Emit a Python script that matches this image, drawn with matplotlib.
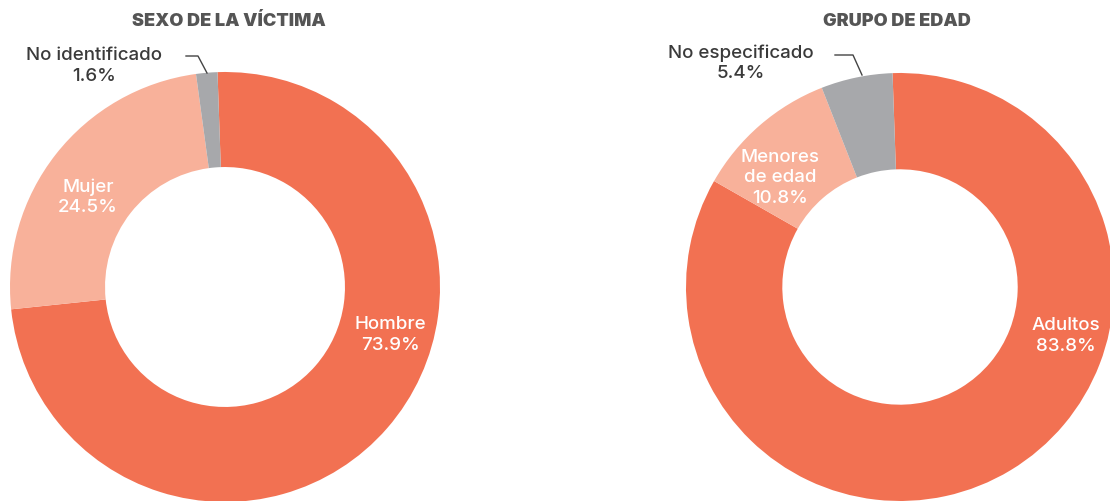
import matplotlib
matplotlib.use("Agg")
import matplotlib.pyplot as plt

W, H = 1110, 501
plt.rcParams['font.family'] = ['Inter', 'DejaVu Sans']

# Data
sexo_labels = ["Hombre", "Mujer", "No identificado"]
sexo_values = [73.9, 24.5, 1.6]
edad_labels = ["Adultos", "Menores\nde edad", "No especificado"]
edad_values = [83.8, 10.8, 5.4]
titles = ["SEXO DE LA VÍCTIMA", "GRUPO DE EDAD"]

colors = ["#F27152", "#F8B19A", "#A7A8AB"]
dark = "#3A3A3A"

fig = plt.figure(figsize=(W / 100, H / 100), dpi=100)
fig.patch.set_facecolor("white")


def px_axes(cx, cy, r):
    return [(cx - r) / W, (H - cy - r) / H, 2 * r / W, 2 * r / H]


def fx(x):
    return x / W


def fy(y):
    return (H - y) / H


def donut(rect, values, inner):
    ax = fig.add_axes(rect)
    ax.pie(values, colors=colors, startangle=92, counterclock=False,
           radius=1, wedgeprops=dict(width=1 - inner, linewidth=0))
    ax.set_xlim(-1, 1)
    ax.set_ylim(-1, 1)
    ax.set_aspect("equal")
    ax.axis("off")
    return ax


donut(px_axes(225, 287, 215), sexo_values, 0.558)
donut(px_axes(900, 287, 214), edad_values, 0.55)

# Titles
title_kw = dict(ha="center", va="center", fontsize=13, fontweight="black",
                color="#555555")
fig.text(fx(229), fy(21), titles[0], **title_kw)
fig.text(fx(897), fy(21), titles[1], **title_kw)

lab_kw = dict(ha="center", va="center", fontsize=13.5, linespacing=1.25,
              fontweight="medium")

# Left donut labels
fig.text(fx(390), fy(335), f"{sexo_labels[0]}\n{sexo_values[0]}%", color="white", **lab_kw)
fig.text(fx(88), fy(197), f"{sexo_labels[1]}\n{sexo_values[1]}%", color="white", **lab_kw)
fig.text(fx(94), fy(66), f"{sexo_labels[2]}\n{sexo_values[2]}%", color=dark, **lab_kw)

# Right donut labels
fig.text(fx(1066), fy(336), f"{edad_labels[0]}\n{edad_values[0]}%", color="white", **lab_kw)
fig.text(fx(780), fy(178), f"{edad_labels[1]}\n{edad_values[1]}%", color="white", **lab_kw)
fig.text(fx(741), fy(63), f"{edad_labels[2]}\n{edad_values[2]}%", color=dark, **lab_kw)

# Leader lines
fig.add_artist(plt.Line2D([fx(186), fx(198), fx(207)], [fy(56), fy(56), fy(73)],
                          color="#444444", lw=1))
fig.add_artist(plt.Line2D([fx(835), fx(853), fx(862)], [fy(55), fy(55), fy(75)],
                          color="#444444", lw=1))

fig.savefig("out.png", dpi=100, facecolor="white")
